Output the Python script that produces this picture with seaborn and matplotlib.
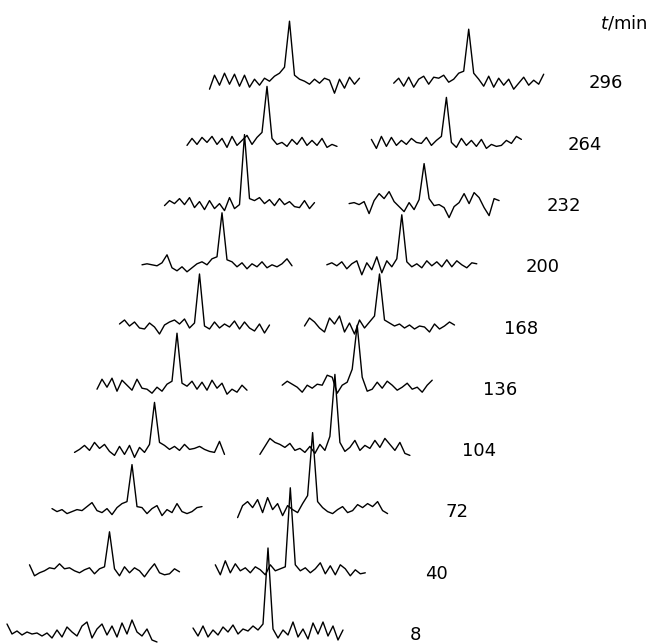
import numpy as np
import pandas as pd
import matplotlib
matplotlib.use('Agg')
import matplotlib.pyplot as plt
import seaborn as sns

# time of each spectrum pair (bottom to top)
times = [8, 40, 72, 104, 136, 168, 200, 232, 264, 296]

# channel offsets along each trace
channels = list(range(0, 151, 5))

# left-hand spectra (signal above baseline)
left_8 = [8, -2, 1, -3, 0, -2, -1, -4, -1, -6, 2, -5, 5, 0, -4, 6, 10, -6, 3, 8,
          -3, 6, -5, 9, -2, 12, 0, -4, 3, -8, -10]
left_40 = [6, -5, -2, 0, 3, 2, 7, 2, 3, 0, -2, 1, 3, -3, 2, 4, 39, 2, -5, 4,
           -2, 3, 0, -6, 1, 7, -2, -4, -3, 2, -1]
left_72 = [1, -2, 0, -4, -2, 0, -1, 3, 7, -1, -3, 1, -5, 2, 6, 8, 45, 3, 2, -4,
           1, 4, -6, 0, -3, 6, -2, -4, -2, 2, 3]
left_104 = [-4, -1, 3, -2, 6, 0, 4, -3, -7, 2, -6, 3, -9, 1, -4, 4, 46, 6, 3, -1,
            2, -2, 4, -1, 0, 2, -1, -3, -4, 7, -6]
left_136 = [-2, 8, 0, 9, -4, 7, 2, -3, 8, -1, -2, -6, 0, -4, 3, 6, 54, 4, 1, 6,
            -2, 5, -3, 7, -1, 4, -7, -2, -5, 2, -3]
left_168 = [2, 6, 0, 4, -2, -3, 3, -1, -8, 1, 4, 6, 2, 7, -2, 3, 52, 0, -3, 4,
            -2, 2, -1, 5, -3, 4, -2, -5, 2, -7, 1]
left_200 = [0, 1, 0, -1, 2, 10, -3, -6, -2, -7, -3, 1, 3, 0, 6, 8, 52, 5, 3, -2,
            2, -4, 1, -2, 3, -3, 0, -2, 1, 6, -1]
left_232 = [-2, 3, 0, 5, -1, 6, -4, 2, -6, 3, -5, 0, -7, 6, -5, -1, 69, 5, 3, 6,
            0, 4, -2, 5, -1, 2, -3, -4, 3, -5, 1]
left_264 = [-3, 4, -2, 5, 0, 6, -2, 4, -5, 6, -3, 2, 7, -2, 5, 10, 56, 4, -2, 0,
            -4, 3, -2, 5, -3, 2, -3, 4, -5, -2, -4]
left_296 = [-8, 6, -4, 8, -3, 7, -5, 6, -6, 2, -4, 3, 0, 5, 8, 14, 60, 6, 2, 0,
            -3, 2, -2, 3, 1, -12, 2, -7, 4, -3, 3]

# right-hand spectra
right_8 = [4, -4, 6, -5, 2, -3, 5, 0, 7, -2, 3, 1, 6, 2, 8, 84, 3, -6, 2, -3,
           10, -5, 3, -7, 9, -2, 10, -4, 6, -8, 2]
right_40 = [6, -4, 10, -2, 7, 0, 3, -2, 4, 1, -4, 6, 0, 2, 4, 83, 6, 0, 3, -2,
            2, 8, -3, 5, -4, 6, 2, -5, 1, -3, -2]
right_72 = [-8, 4, 8, 2, 10, -3, 12, 0, 6, -6, 4, 0, -3, 6, 14, 77, 8, 2, -2, -4,
            0, 3, -3, -1, 5, 2, 6, 3, 8, -1, -4]
right_104 = [-6, 2, 10, 6, 4, 1, 5, -2, 0, -4, 2, -5, 4, -2, 12, 74, 6, -3, 1, 8,
             -2, 3, 0, 8, 1, 10, 4, -2, 6, -5, -7]
right_136 = [2, 6, 3, 0, -5, 2, -1, 3, 2, 12, 10, -6, 2, 5, 18, 62, 10, -4, -2, 5,
             -1, 6, 2, -3, 0, 4, -2, 0, -5, 2, 7]
right_168 = [0, 8, 4, -2, -6, 8, 2, 10, -6, 3, -8, 6, -2, 4, 10, 52, 6, 3, 0, 2,
             -2, 1, -3, 0, -1, -6, 2, -3, 0, 4, 1]
right_200 = [0, 2, -1, 3, -4, 1, 4, -10, 2, -5, 8, -8, 4, -2, 6, 50, 3, -2, 1, -3,
             4, -1, 3, -2, 5, -2, 4, 0, -3, 2, 1]
right_232 = [0, 1, -1, 2, -10, 3, 10, 5, 12, 2, -3, -8, 1, -6, 4, 40, 5, -2, -1, -4,
             -14, -3, 1, 10, 0, 11, 6, -4, -12, 5, 3]
right_264 = [3, -6, 6, -4, 5, -3, 2, -2, 4, 0, -1, 5, -3, 2, 6, 45, 0, -5, 4, -3,
             2, -4, 3, -6, -2, -4, -3, 2, -1, 6, 3]
right_296 = [-2, 3, -5, 4, -6, 2, 5, -3, 4, 3, 6, -1, 2, 8, 10, 52, 8, 2, -5, 5,
             -6, 3, -4, 2, -8, -2, 4, -4, 1, -3, 7]

left_traces = [left_8, left_40, left_72, left_104, left_136,
               left_168, left_200, left_232, left_264, left_296]
right_traces = [right_8, right_40, right_72, right_104, right_136,
                right_168, right_200, right_232, right_264, right_296]

# stacking layout (pixel units of the figure)
row_step_y = 61.2
left_x0, right_x0 = 7, 193
left_step_x, right_step_x = 22.5, 22.3
base_y0 = 12

rows = []
for k, t in enumerate(times):
    base = base_y0 + k * row_step_y
    for side, traces, x0, dx in [('L', left_traces, left_x0, left_step_x),
                                 ('R', right_traces, right_x0, right_step_x)]:
        for c, v in zip(channels, traces[k]):
            rows.append({'x': x0 + k * dx + c, 'y': base + v,
                         'trace': f'{side}{t}'})
df = pd.DataFrame(rows)

sns.set_style('white')
fig = plt.figure(figsize=(6.5, 6.44), dpi=100)
ax = fig.add_axes([0, 0, 1, 1])

sns.lineplot(data=df, x='x', y='y', units='trace', estimator=None,
             color='black', linewidth=1.0, sort=False, legend=False, ax=ax,
             solid_joinstyle='round')

# time labels
for k, t in enumerate(times):
    ax.text(415 + k * 21.2, 9 + k * 61.3, str(t), ha='center', va='center',
            fontsize=13, color='black')
ax.text(624, 621, r'$t$/min', ha='center', va='center', fontsize=13, color='black')

ax.set_xlim(0, 650)
ax.set_ylim(0, 644)
ax.axis('off')

plt.savefig('out.png', dpi=100)
plt.close()
